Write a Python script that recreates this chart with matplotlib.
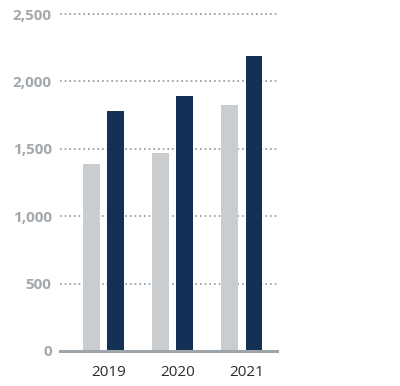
import matplotlib.pyplot as plt
import numpy as np

years = ['2019', '2020', '2021']
light_vals = [1385, 1467, 1825]
dark_vals = [1781, 1892, 2192]
yticks = [0, 500, 1000, 1500, 2000, 2500]

light = '#c9cdd0'
navy = '#133157'
tick_grey = '#a3a8ac'

fig = plt.figure(figsize=(4.0, 3.86), dpi=100)
ax = fig.add_axes([0.15, 0.0907, 0.5425, 0.873])

x = np.arange(len(years))
w = 0.24
ax.bar(x - 0.175, light_vals, w, color=light, zorder=3)
ax.bar(x + 0.175, dark_vals, w, color=navy, zorder=3)

ax.set_xlim(-0.628, 2.508)
ax.set_ylim(0, 2500)

# dotted grid lines
for v in yticks[1:]:
    ax.axhline(v, color='#8f969b', linestyle=(0, (1, 1.8)), linewidth=1.2,
               zorder=1, clip_on=False)
ax.axhline(0, color='#9ea6ab', linewidth=2.2, zorder=4, clip_on=False)

for s in ax.spines.values():
    s.set_visible(False)

ax.set_yticks(yticks)
ax.set_yticklabels([f'{v:,}' for v in yticks], fontsize=11, fontweight='bold',
                   color=tick_grey, family='Open Sans')
ax.set_xticks(x + 0.07)
ax.set_xticklabels(years, fontsize=11, color='#2b2b2b', family='Open Sans')
ax.tick_params(axis='y', length=0, pad=6)
ax.tick_params(axis='x', length=0, pad=10)

fig.savefig('out.png', dpi=100)
